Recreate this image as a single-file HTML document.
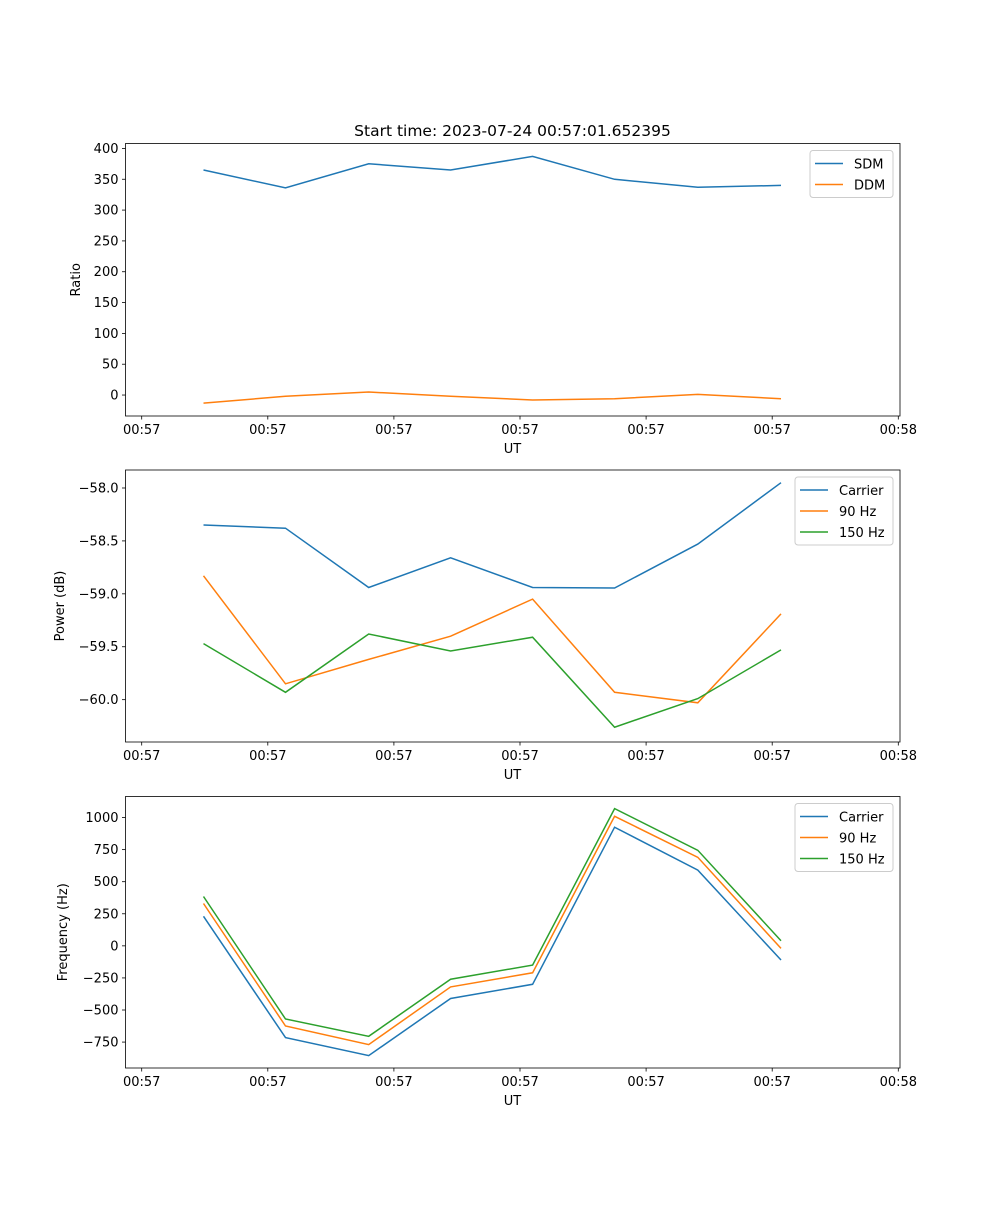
<!DOCTYPE html>
<html><head><meta charset="utf-8"><style>
body{margin:0;background:#fff;}
svg text{font-family:"DejaVu Sans","Liberation Sans",sans-serif;font-size:13px;fill:#000;}
</style></head><body>
<svg id="fig" width="1000" height="1200" viewBox="0 0 1000 1200" xmlns="http://www.w3.org/2000/svg">
<rect width="1000" height="1200" fill="#fff"/>
<text x="512.5" y="136" text-anchor="middle" style="font-size:15.5px">Start time: 2023-07-24 00:57:01.652395</text>
</svg>
<script>
// shared x data (in tick units)
const xVals = [0.49, 1.14, 1.80, 2.45, 3.10, 3.75, 4.41, 5.07];
const xTickLabels = ["00:57","00:57","00:57","00:57","00:57","00:57","00:58"];
// panel 1
const sdm = [365, 336, 375, 365, 387, 350, 337, 340];
const ddm = [-13, -2, 5, -2, -8, -6, 1, -6];
const ticks1 = [0,50,100,150,200,250,300,350,400];
// panel 2
const pCarrier = [-58.35, -58.38, -58.94, -58.66, -58.94, -58.945, -58.53, -57.95];
const p90 = [-58.83, -59.85, -59.62, -59.40, -59.05, -59.93, -60.03, -59.19];
const p150 = [-59.47, -59.93, -59.38, -59.54, -59.41, -60.26, -59.99, -59.53];
const ticks2 = [-58.0,-58.5,-59.0,-59.5,-60.0];
// panel 3
const fCarrier = [230, -715, -855, -410, -300, 925, 590, -110];
const f90 = [330, -625, -770, -320, -210, 1010, 690, -20];
const f150 = [385, -570, -705, -260, -150, 1070, 745, 40];
const ticks3 = [-750,-500,-250,0,250,500,750,1000];

const NS="http://www.w3.org/2000/svg";
const svg=document.getElementById('fig');
const C={b:'#1f77b4',o:'#ff7f0e',g:'#2ca02c'};
function mk(t,a,p){const e=document.createElementNS(NS,t);for(const k in a)e.setAttribute(k,a[k]);(p||svg).appendChild(e);return e;}
const L=125.5,R=900;
function xs(v){return 141.7+v*126.1;}

function panel(top,bot,ymin,ymax,ticks,fmt,ylabel,series,legend,name){
  const g=mk('g',{});
  
  
  const ys=v=>bot-(v-ymin)/(ymax-ymin)*(bot-top);
  series.forEach(s=>{
    const pts=s.d.map((v,i)=>xs(xVals[i]).toFixed(1)+','+ys(v).toFixed(1)).join(' ');
    const pl=mk('polyline',{points:pts,fill:'none',stroke:s.c,'stroke-width':1.5},g);
    
    
  });
  const fr=mk('rect',{x:L,y:top,width:R-L,height:bot-top,fill:'none',stroke:'#000','stroke-width':0.8},g);
  
  
  xTickLabels.forEach((t,i)=>{
    const x=xs(i);
    mk('line',{x1:x,x2:x,y1:bot,y2:bot+3.5,stroke:'#000','stroke-width':0.8},g);
    const tx=mk('text',{x:x,y:bot+18,'text-anchor':'middle'},g);tx.textContent=t;
    
    
  });
  ticks.forEach(v=>{
    const y=ys(v);
    mk('line',{x1:L-3.5,x2:L,y1:y,y2:y,stroke:'#000','stroke-width':0.8},g);
    const tx=mk('text',{x:L-7,y:y+4.5,'text-anchor':'end'},g);tx.textContent=fmt(v);
    
    
  });
  const xl=mk('text',{x:512.5,y:bot+37,'text-anchor':'middle'},g);xl.textContent='UT';
  
  
  const yl=mk('text',{x:0,y:0,'text-anchor':'middle',transform:`translate(${legend.yx},${(top+bot)/2}) rotate(-90)`},g);yl.textContent=ylabel;
  
  
  const lg=mk('g',{},g);
  
  
  const h=series.length*21+5;
  mk('rect',{x:legend.x,y:top+7,width:R-7-legend.x,height:h,rx:3,fill:'#fff','fill-opacity':0.8,stroke:'#ccc'},lg);
  series.forEach((s,i)=>{
    const y=top+7+13+i*21;
    mk('line',{x1:legend.x+5,x2:legend.x+33,y1:y,y2:y,stroke:s.c,'stroke-width':1.5},lg);
    const t=mk('text',{x:legend.x+44,y:y+5},lg);t.textContent=s.label;
    
    
  });
}
const neg=s=>s.replace('-','\u2212');
panel(143.5,416,-34,408,ticks1,v=>neg(String(v)),'Ratio',
  [{d:sdm,c:C.b,n:'sdm-line',label:'SDM'},{d:ddm,c:C.o,n:'ddm-line',label:'DDM'}],{x:810,yx:80},'ratio-panel');
panel(470,742,-60.40,-57.83,ticks2,v=>neg(v.toFixed(1)),'Power (dB)',
  [{d:pCarrier,c:C.b,n:'carrier-power-line',label:'Carrier'},{d:p90,c:C.o,n:'90hz-power-line',label:'90 Hz'},{d:p150,c:C.g,n:'150hz-power-line',label:'150 Hz'}],{x:795,yx:64},'power-panel');
panel(796.5,1068,-952,1164,ticks3,v=>neg(String(v)),'Frequency (Hz)',
  [{d:fCarrier,c:C.b,n:'carrier-freq-line',label:'Carrier'},{d:f90,c:C.o,n:'90hz-freq-line',label:'90 Hz'},{d:f150,c:C.g,n:'150hz-freq-line',label:'150 Hz'}],{x:795,yx:67},'frequency-panel');
</script>
</body></html>
